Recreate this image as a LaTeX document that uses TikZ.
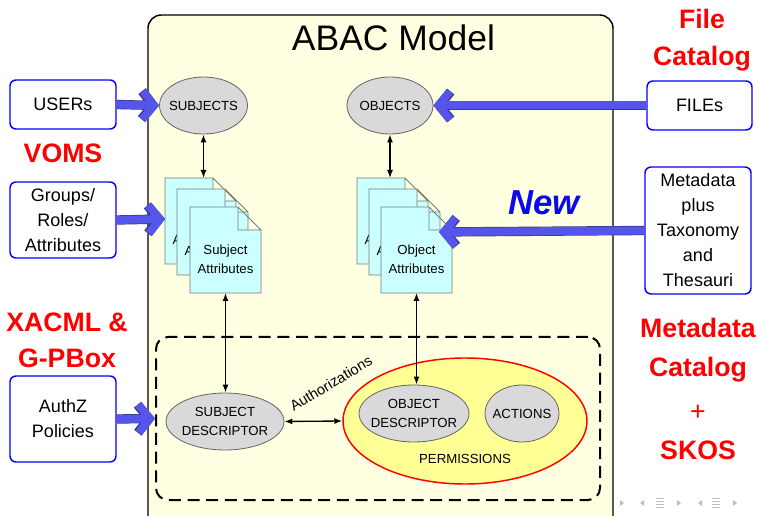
\documentclass[tikz,border=0pt]{standalone}
\usepackage{fontspec}
\setmainfont{Liberation Sans}
\usetikzlibrary{arrows.meta,shapes.geometric,calc}

\definecolor{panelfill}{RGB}{255,255,225}
\definecolor{permfill}{RGB}{255,255,150}
\definecolor{ovalfill}{RGB}{217,217,217}
\definecolor{ovaledge}{RGB}{100,100,100}
\definecolor{docfill}{RGB}{204,255,255}
\definecolor{docedge}{RGB}{110,125,125}
\definecolor{fatblue}{RGB}{85,85,235}
\definecolor{fatedge}{RGB}{55,55,140}
\definecolor{newblue}{RGB}{10,10,235}
\definecolor{navgray}{RGB}{185,185,220}

\tikzset{
  every picture/.style={
    line width=1pt
  },
  source/.style={draw=blue, line width=1.1pt, rounded corners=4.5pt, fill=white,
    align=center, inner sep=0pt, font=\fontsize{13.5}{18.75}\selectfont},
  catalog/.style={text=red, align=center, font=\bfseries\fontsize{20}{28}\selectfont},
  oval/.style={ellipse, draw=ovaledge, line width=0.6pt, fill=ovalfill,
    inner xsep=-6pt, inner ysep=0pt, minimum height=42.75pt,
    align=center, font=\fontsize{9.9}{13.9}\selectfont},
  docpage/.style={draw=docedge, line width=0.6pt, fill=docfill},
  doclabel/.style={align=center, inner sep=0pt, font=\fontsize{9.9}{14.25}\selectfont},
  feed/.style={draw=fatblue, line width=6pt,
    -{Straight Barb[sharp, length=8.5pt, width=21pt]},
    preaction={draw=fatedge, line width=7pt}},
  link/.style={line width=1pt, {Latex[length=6pt,width=4.5pt]}-{Latex[length=6pt,width=4.5pt]}},
}

% one attribute sheet with a folded corner: name, top left corner, text
\newcommand\attrpage[3]{%
  \filldraw[docpage] (#2) -- ++(48,0) -- ++(23,23) -- ++(0,63) -- ++(-71,0) -- cycle
    (#2) ++(48,0) -- ++(0,23) -- ++(23,0)
    (#2) ++(35.5,0) coordinate (#1-top)
    (#2) ++(0,41) coordinate (#1-left)
    (#2) ++(35.5,86) coordinate (#1-bottom)
    (#2) ++(35.5,52) node[doclabel] (#1) {#3};
}

\begin{document}
\begin{tikzpicture}[x=0.75pt, y=-0.75pt]
  \useasboundingbox (0,0) rectangle (757,516);
  \clip (0,0) rectangle (757,516);
  \fill[white] (0,0) rectangle (757,516);

  % the model panel
  \node[draw, line width=1.1pt, fill=panelfill, rounded corners=10pt, inner sep=0pt,
    minimum width=348.75pt, minimum height=393.75pt] (abac) at (380.5,277.5) {};
  \node[font=\fontsize{26.6}{30}\selectfont] (title) at (393.5,38) {ABAC Model};

  % subjects and objects
  \node[oval, minimum width=66pt] (subjects) at (203.5,105.5) {SUBJECTS};
  \node[oval, minimum width=64.5pt] (objects) at (390,105.5) {OBJECTS};

  \attrpage{sback}{165,178}{Subject\\Attributes}
  \attrpage{smid}{177,189}{Subject\\Attributes}
  \attrpage{sfront}{190,207}{Subject\\Attributes}
  \attrpage{oback}{357,178}{Object\\Attributes}
  \attrpage{omid}{369,189}{Object\\Attributes}
  \attrpage{ofront}{381,207}{Object\\Attributes}

  % policy zone
  \node[draw, dashed, dash pattern=on 9pt off 5pt, line width=1.5pt, rounded corners=9pt,
    inner sep=0pt, minimum width=333pt, minimum height=122.25pt] (authzone) at (378,418.5) {};
  \node[ellipse, draw=red, line width=1.1pt, fill=permfill, inner sep=0pt,
    minimum width=183pt, minimum height=94.5pt] (perm) at (465,421) {};
  \node[font=\fontsize{9.9}{12}\selectfont] (permtxt) at (465,459) {PERMISSIONS};
  \node[oval, minimum width=88.5pt] (sdesc) at (225,421.5) {SUBJECT\\DESCRIPTOR};
  \node[oval, minimum width=82.5pt] (odesc) at (414,413.5) {OBJECT\\DESCRIPTOR};
  \node[oval, minimum width=55.5pt] (actions) at (522,413.5) {ACTIONS};

  \draw[link] (subjects.south) -- (subjects.south |- sback-top);
  \draw[link] (objects.south) -- (objects.south |- oback-top);
  \draw[link] (sfront-bottom) -- (sfront-bottom |- sdesc.north);
  \draw[link] (ofront-bottom) -- (ofront-bottom |- odesc.north);
  \draw[link] (sdesc.east) -- node[pos=0, anchor=base west, rotate=31, shift={(6pt,2.6pt)},
    font=\fontsize{11}{13}\selectfont] {Authorizations} (perm.west);

  % outside sources
  \node[source, minimum width=79.5pt, minimum height=36.75pt] (users) at (63,104.5) {USERs};
  \node[source, minimum width=79.5pt, minimum height=57pt] (groups) at (63,220) {Groups/\\Roles/\\Attributes};
  \node[source, minimum width=79.5pt, minimum height=64.5pt] (authz) at (63,419) {AuthZ\\Policies};
  \node[source, minimum width=78.75pt, minimum height=36.75pt] (files) at (699.5,105.5) {FILEs};
  \node[source, minimum width=79.5pt, minimum height=95.25pt] (meta) at (698,230.5)
    {Metadata\\plus\\Taxonomy\\and\\Thesauri};
  \coordinate (objfeed) at (439,232);

  \draw[feed] (users.east) -- (subjects.west);
  \draw[feed] (groups.east) -- (sback-left);
  \draw[feed] (authz.east) -- (authzone.west);
  \draw[feed] (files.west) -- (objects.east);
  \draw[feed] (meta.west) -- (objfeed);

  % catalogue names
  \node[catalog, anchor=base] (voms) at (63,163) {VOMS};
  \node[catalog, font=\bfseries\fontsize{20}{27}\selectfont] (xacml) at (67,340) {XACML \&\\G-PBox};
  \node[catalog, font=\bfseries\fontsize{20}{27.75}\selectfont] (filecat) at (702,40.5) {File\\Catalog};
  \node[catalog, font=\bfseries\fontsize{20}{29.25}\selectfont] (metacat) at (698,389)
    {Metadata\\Catalog\\[3.75pt]{\mdseries +}\\SKOS};
  \node[text=newblue, font=\bfseries\itshape\fontsize{26}{30}\selectfont] (new) at (544,202.5) {New};

  % navigation marks
  \foreach \x in {622,679,735}
    \fill[navgray] (\x-2,500) -- (\x+2,503) -- (\x-2,506) -- cycle;
  \foreach \x in {642,700}
    \fill[navgray] (\x+2,500) -- (\x-2,503) -- (\x+2,506) -- cycle;
  \foreach \x in {660,716}
    \draw[navgray, line width=0.6pt] (\x-4,498) -- (\x+4,498) (\x-4,501) -- (\x+4,501)
      (\x-4,504) -- (\x+4,504) (\x-4,507) -- (\x+4,507);
\end{tikzpicture}
\end{document}
